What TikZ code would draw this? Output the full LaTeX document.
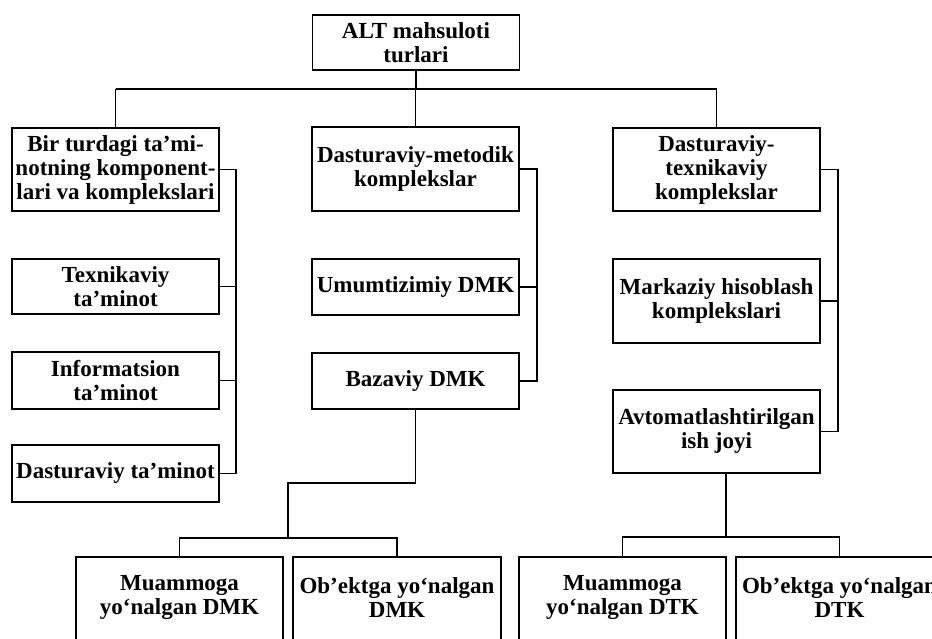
\documentclass[tikz,border=0pt]{standalone}
\usepackage{fontspec}
\setmainfont{Liberation Serif}
\begin{document}
\begin{tikzpicture}[x=1pt,y=-1pt,
  txt/.style={inner sep=0pt, align=center, font=\bfseries\fontsize{23}{24}\selectfont},
  box/.style={txt, draw, line width=1.1pt, minimum width=207pt},
  ln/.style={line width=1.1pt}]
\useasboundingbox (0,0) rectangle (932,639);
\clip (0,0) rectangle (932,639);
% root
\node[box, minimum height=55pt] (root) at (416,42.5) {ALT mahsuloti\\turlari};
% left column
\node[box, minimum height=83pt] (l1) at (115.5,169.5) {Bir turdagi ta’mi-\\notning komponent-\\lari va komplekslari};
\node[box, minimum height=55pt] (l2) at (115.5,286.5) {Texnikaviy\\ta’minot};
\node[box, minimum height=57pt] (l3) at (115.5,380.5) {Informatsion\\ta’minot};
\node[box, minimum height=57pt] (l4) at (115.5,473.5) {Dasturaviy ta’minot};
% middle column
\node[box, minimum height=84pt] (m1) at (415.5,169) {Dasturaviy-metodik\\komplekslar};
\node[box, minimum height=56pt] (m2) at (415.5,287) {Umumtizimiy DMK};
\node[box, minimum height=56pt] (m3) at (415.5,381) {Bazaviy DMK};
% right column
\node[box, minimum height=83pt] (r1) at (716.5,169.5) {Dasturaviy-\\texnikaviy\\komplekslar};
\node[box, minimum height=84pt] (r2) at (716.5,301) {Markaziy hisoblash\\komplekslari};
\node[box, minimum height=83pt] (r3) at (716.5,431.5) {Avtomatlashtirilgan\\ish joyi};
% bottom boxes (cut by the page edge)
\node[box, minimum height=110pt] (b1) at (179.5,612) {};
\node[box, minimum height=110pt, minimum width=208pt] (b2) at (397,612) {};
\node[box, minimum height=110pt] (b3) at (622.5,612) {};
\node[box, minimum height=110pt] (b4) at (839.5,612) {};
\node[txt] (b1t) at (179.5,598) {Muammoga\\yo‘nalgan DMK};
\node[txt] (b2t) at (397,598) {Ob’ektga yo‘nalgan\\DMK};
\node[txt] (b3t) at (622.5,598) {Muammoga\\yo‘nalgan DTK};
\node[txt] (b4t) at (839.5,598) {Ob’ektga yo‘nalgan\\DTK};
% coordinates
\coordinate (hbar) at (0,89);
\coordinate (lbus) at (236,0);
\coordinate (mbus) at (537,0);
\coordinate (rbus) at (838,0);
\coordinate (mj) at (288,483);
\coordinate (mk) at (288,538);
\coordinate (rj) at (726,473);
\coordinate (rk) at (726,537);
% top level
\draw[ln] (root.south) -- (root.south |- hbar);
\draw[ln] (l1.north |- hbar) -- (r1.north |- hbar);
\draw[ln] (l1.north |- hbar) -- (l1.north);
\draw[ln] (m1.north |- hbar) -- (m1.north);
\draw[ln] (r1.north |- hbar) -- (r1.north);
% left bracket
\draw[ln] (l1.east) -- (l1.east -| lbus) -- (l4.east -| lbus) -- (l4.east);
\draw[ln] (l2.east) -- (l2.east -| lbus);
\draw[ln] (l3.east) -- (l3.east -| lbus);
% middle bracket
\draw[ln] (m1.east) -- (m1.east -| mbus) -- (m3.east -| mbus) -- (m3.east);
\draw[ln] (m2.east) -- (m2.east -| mbus);
% right bracket
\draw[ln] (r1.east) -- (r1.east -| rbus) -- (r3.east -| rbus) -- (r3.east);
\draw[ln] (r2.east) -- (r2.east -| rbus);
% middle to bottom
\draw[ln] (m3.south) -- (m3.south |- mj) -- (mj) -- (mk);
\draw[ln] (b1.north) -- (b1.north |- mk) -- (b2.north |- mk) -- (b2.north);
% right to bottom
\draw[ln] (rj) -- (rk);
\draw[ln] (b3.north) -- (b3.north |- rk) -- (b4.north |- rk) -- (b4.north);
\end{tikzpicture}
\end{document}
